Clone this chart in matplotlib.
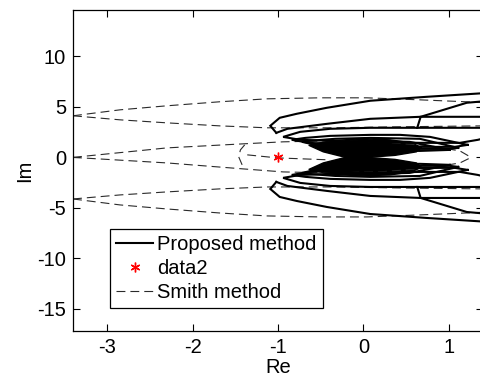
import matplotlib
matplotlib.use('Agg')
import matplotlib.pyplot as plt

plt.rcParams['font.family'] = ['Liberation Sans', 'DejaVu Sans']
plt.rcParams['axes.unicode_minus'] = False

# --- proposed method, upper half (Re, Im) ---
a_re = [1.48, 0.74, 0.08, -0.43, -0.78, -0.98, -1.09, -1.02]
a_im = [6.40, 6.00, 5.61, 4.91, 4.32, 3.92, 3.13, 2.43]
b_re = [-1.02, -0.89, -0.43, 0.08, 0.67, 1.21, 1.48]
b_im = [2.43, 2.83, 3.32, 3.82, 4.02, 5.41, 5.61]
c_re = [1.48, 0.67, 0.63, 1.48]
c_im = [4.02, 4.02, 2.93, 2.93]
k1_re = [0.63, 0.08, -0.39, -0.74, -0.94, -0.74, -0.39, 0.08, 0.66, 1.13, 1.34, 1.48]
k1_im = [2.93, 2.93, 2.83, 2.53, 2.03, 1.74, 1.64, 1.54, 1.44, 1.44, 1.74, 2.03]
k2_re = [1.22, 0.78, 0.43, 0.08, -0.39, -0.68, -0.84, -0.63, -0.27, 0.08, 0.66, 1.07, 1.22]
k2_im = [1.24, 2.03, 2.23, 2.23, 2.13, 1.93, 1.74, 1.44, 1.24, 1.14, 1.04, 1.04, 1.24]
k3_re = [1.11, 0.66, 0.08, -0.33, -0.63, -0.72, -0.51, 0.08, 0.66, 1.01, 1.11]
k3_im = [0.94, 1.84, 1.93, 1.84, 1.64, 1.54, 1.14, 0.94, 0.84, 0.84, 0.94]
k4_re = [1.01, 0.54, 0.08, -0.39, -0.60, -0.39, 0.08, 0.66, 1.01]
k4_im = [0.74, 1.54, 1.64, 1.44, 1.34, 0.94, 0.74, 0.64, 0.74]
core_re = [-0.64, -0.39, -0.04, 0.31, 0.56, 0.68, 0.62, 0.37, 0.08, -0.22, -0.47]
core_im = [1.20, 1.64, 1.84, 1.74, 1.44, 0.99, 0.55, 0.20, 0.02, 0.02, 0.55]

# --- proposed method, lower half (conjugate branch) ---
a_im_low = [-6.40, -6.00, -5.61, -4.91, -4.32, -3.92, -3.13, -2.43]
b_im_low = [-2.43, -2.83, -3.32, -3.82, -4.02, -5.41, -5.61]
c_im_low = [-4.02, -4.02, -2.93, -2.93]
k1_im_low = [-2.93, -2.93, -2.83, -2.53, -2.03, -1.74, -1.64, -1.54, -1.44, -1.44, -1.74, -2.03]
k2_im_low = [-1.24, -2.03, -2.23, -2.23, -2.13, -1.93, -1.74, -1.44, -1.24, -1.14, -1.04, -1.04, -1.24]
k3_im_low = [-0.94, -1.84, -1.93, -1.84, -1.64, -1.54, -1.14, -0.94, -0.84, -0.84, -0.94]
k4_im_low = [-0.74, -1.54, -1.64, -1.44, -1.34, -0.94, -0.74, -0.64, -0.74]
core_im_low = [-1.20, -1.64, -1.84, -1.74, -1.44, -0.99, -0.55, -0.20, -0.02, -0.02, -0.55]

# --- Smith method (dashed) ---
d1_re = [-3.40, -2.85, -2.30, -1.68, -1.13, -0.51, 0.04, 0.66, 1.48]
d1_im = [4.12, 4.71, 5.11, 5.51, 5.80, 5.90, 5.90, 5.70, 5.41]
d2_re = [-3.40, -2.85, -2.30, -1.68, -1.13, -0.36, 0.43, 1.48]
d2_im = [4.12, 3.72, 3.42, 3.12, 2.93, 2.93, 3.03, 3.13]
d3_re = [-3.40, -2.30, -1.41, -0.94, -0.39, 0.19, 0.78, 1.13, 1.25]
d3_im = [0.0, 0.94, 1.34, 1.54, 1.64, 1.54, 1.14, 0.64, 0.05]
d4_re = [-3.40, -2.30, -1.41, -0.94, -0.39, 0.19, 0.78, 1.13, 1.25]
d4_im = [0.0, -0.55, -1.14, -1.44, -1.54, -1.44, -1.04, -0.55, -0.05]
d5_im = [-4.12, -3.72, -3.42, -3.12, -2.93, -2.93, -3.03, -3.13]
d6_im = [-4.12, -4.71, -5.11, -5.51, -5.80, -5.90, -5.90, -5.70, -5.41]
d7_re = [-1.39, -1.44, -1.46, -1.42]
d7_im = [1.24, 0.74, 0.05, -0.74]
d8_re = [-1.36, -1.01, -0.39]
d8_im = [0.25, -0.05, -0.25]

# critical point
pt_re = [-1]
pt_im = [0]

xticks = [-3, -2, -1, 0, 1]
yticks = [-15, -10, -5, 0, 5, 10]

fs = 14.5
fig = plt.figure(figsize=(4.8, 3.76), dpi=100)
ax = fig.add_axes([73/480, 45/376, 410/480, 321/376])

dash = dict(color='#2a2a2a', lw=0.8, dashes=(8, 4.5))
ax.plot(d1_re, d1_im, label='Smith method', **dash)
ax.plot(d2_re, d2_im, **dash)
ax.plot(d3_re, d3_im, **dash)
ax.plot(d4_re, d4_im, **dash)
ax.plot(d2_re, d5_im, **dash)
ax.plot(d1_re, d6_im, **dash)
ax.plot(d7_re, d7_im, **dash)
ax.plot(d8_re, d8_im, **dash)

solid = dict(color='k', lw=1.5, solid_joinstyle='miter')
ax.plot(a_re, a_im, label='Proposed method', **solid)
for xs, ys in [(b_re, b_im), (c_re, c_im), (k1_re, k1_im), (k2_re, k2_im),
               (k3_re, k3_im), (k4_re, k4_im),
               (a_re, a_im_low), (b_re, b_im_low), (c_re, c_im_low),
               (k1_re, k1_im_low), (k2_re, k2_im_low), (k3_re, k3_im_low),
               (k4_re, k4_im_low)]:
    ax.plot(xs, ys, **solid)
ax.fill(core_re, core_im, color='k', lw=1.0)
ax.fill(core_re, core_im_low, color='k', lw=1.0)

ax.plot(pt_re, pt_im, ls='none', marker=(6, 2, 0), color='r', ms=7, mew=1.0,
        label='data2')

ax.set_xlim(-3.4, 1.4)
ax.set_ylim(-17.2, 14.6)
ax.set_xticks(xticks)
ax.set_yticks(yticks)
ax.tick_params(direction='in', top=True, right=True, length=5, width=0.8,
               labelsize=fs, pad=5)
for s in ax.spines.values():
    s.set_linewidth(0.9)
ax.set_xlabel('Re', fontsize=fs, labelpad=1)
ax.set_ylabel('Im', fontsize=fs, labelpad=2)

h, l = ax.get_legend_handles_labels()
order = [l.index('Proposed method'), l.index('data2'), l.index('Smith method')]
leg = ax.legend([h[i] for i in order], [l[i] for i in order],
                loc='lower left', bbox_to_anchor=(110/480, 68/376),
                bbox_transform=fig.transFigure, borderaxespad=0,
                fontsize=fs, handlelength=1.85, handletextpad=0.2,
                borderpad=0.3, labelspacing=0.25, fancybox=False,
                framealpha=1, edgecolor='k')
leg.get_frame().set_linewidth(0.9)

fig.savefig('out.png', dpi=100)
